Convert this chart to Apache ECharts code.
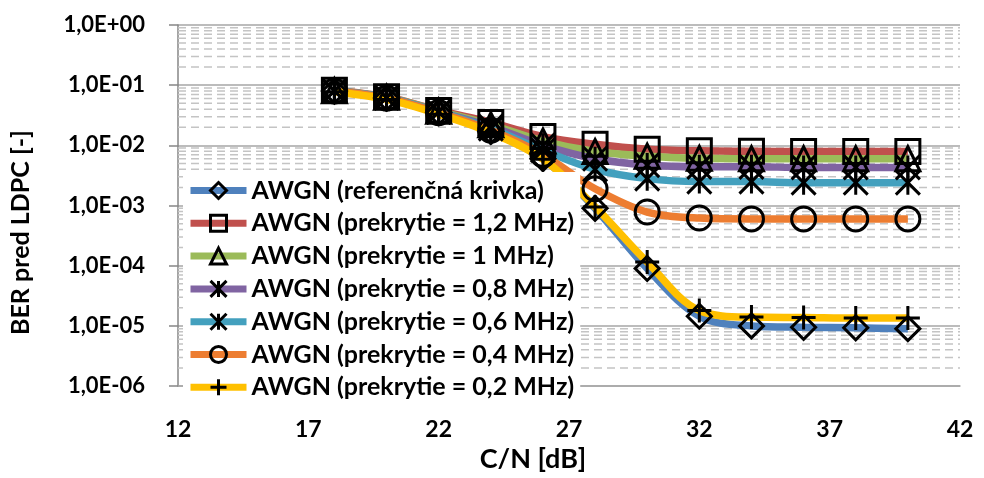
<!DOCTYPE html>
<html>
<head>
<meta charset="utf-8">
<script src="https://cdn.jsdelivr.net/npm/echarts@6/dist/echarts.min.js"></script>
<style>html,body{margin:0;padding:0;background:#fff}#c{width:984px;height:478px}</style>
</head>
<body>
<div id="c"></div>
<script>
// C/N [dB]
const cn = [18, 20, 22, 24, 26, 28, 30, 32, 34, 36, 38, 40];
// BER before LDPC per series
const berRef   = [0.080, 0.061, 0.035, 0.0170, 0.0060, 0.00090, 0.000090, 0.0000145, 0.0000100, 0.0000095, 0.0000093, 0.0000090];
const ber12    = [0.082, 0.064, 0.038, 0.0240, 0.0140, 0.0104, 0.0086, 0.0081, 0.0080, 0.0079, 0.0079, 0.0079];
const ber10    = [0.081, 0.063, 0.037, 0.0220, 0.0118, 0.0079, 0.0066, 0.0061, 0.0060, 0.0060, 0.0060, 0.0060];
const ber08    = [0.081, 0.062, 0.036, 0.0205, 0.0100, 0.0060, 0.0047, 0.0044, 0.0044, 0.0043, 0.0043, 0.0043];
const ber06    = [0.080, 0.062, 0.036, 0.0190, 0.0083, 0.0040, 0.0028, 0.0025, 0.0025, 0.0024, 0.0024, 0.0024];
const ber04    = [0.080, 0.061, 0.035, 0.0178, 0.0070, 0.0019, 0.00078, 0.00062, 0.00060, 0.00060, 0.00060, 0.00060];
const ber02    = [0.078, 0.058, 0.033, 0.0163, 0.0059, 0.00095, 0.000115, 0.000018, 0.000014, 0.0000138, 0.0000135, 0.0000135];

const seriesNames = [
  'AWGN (referenčná krivka)',
  'AWGN (prekrytie = 1,2 MHz)',
  'AWGN (prekrytie = 1 MHz)',
  'AWGN (prekrytie = 0,8 MHz)',
  'AWGN (prekrytie = 0,6 MHz)',
  'AWGN (prekrytie = 0,4 MHz)',
  'AWGN (prekrytie = 0,2 MHz)'
];
const seriesValues = [berRef, ber12, ber10, ber08, ber06, ber04, ber02];
const seriesColors = ['#4F81BD', '#C0504D', '#9BBB59', '#8064A2', '#43A0BE', '#ED7D31', '#FFC000'];
const ASTER = 'path://M0,0L20,20M20,0L0,20M10,0L10,20';
const PLUS = 'path://M10,0L10,20M0,10L20,10';
const seriesSymbols = ['diamond', 'rect', 'triangle', ASTER, ASTER, 'circle', PLUS];

const X_MIN = 12, X_MAX = 42;
// minor (dashed) log gridlines 2..9 x 10^e
const minorGrid = [];
for (let e = -6; e <= -1; e++) for (let m = 2; m <= 9; m++) minorGrid.push(m * Math.pow(10, e));
const minorGridData = [];
minorGrid.forEach(v => { minorGridData.push([X_MIN, v], [X_MAX, v], [X_MAX, '-']); });

const FONT = 'Lato';
const series = [{
  name: '_grid', type: 'line', data: minorGridData, silent: true, z: 1,
  symbol: 'none', connectNulls: false,
  lineStyle: {type: [8, 5], color: '#C4C4C4', width: 1.5},
  emphasis: {disabled: true}
}];
seriesNames.forEach((n, i) => {
  series.push({
    name: n, type: 'line', smooth: 0.35,
    data: cn.map((x, j) => [x, seriesValues[i][j]]),
    symbol: seriesSymbols[i], symbolSize: 24,
    lineStyle: {color: seriesColors[i], width: 7.5},
    itemStyle: {color: 'rgba(0,0,0,0)', borderColor: '#000', borderWidth: 3},
    emphasis: {disabled: true}, z: 3
  });
});

const chart = echarts.init(document.getElementById('c'));
chart.setOption({
  animation: false,
  textStyle: {fontFamily: FONT},
  grid: {left: 178, right: 24, top: 25, bottom: 89},
  xAxis: {
    type: 'value', min: X_MIN, max: X_MAX, interval: 5,
    name: 'C/N [dB]', nameLocation: 'middle', nameGap: 59,
    nameTextStyle: {fontFamily: FONT, fontWeight: 'bold', fontSize: 27, color: '#000', padding: [0, 72, 0, 0]},
    axisLine: {show: true, onZero: false, lineStyle: {color: '#A6A6A6', width: 1.5}},
    axisTick: {show: false},
    splitLine: {show: false},
    axisLabel: {fontFamily: FONT, fontWeight: 'bold', fontSize: 23, color: '#000', margin: 32}
  },
  yAxis: {
    type: 'log', logBase: 10, min: 1e-6, max: 1,
    name: 'BER pred LDPC [-]', nameLocation: 'middle', nameGap: 145, nameRotate: 90,
    nameTextStyle: {fontFamily: FONT, fontWeight: 'bold', fontSize: 25, color: '#000', padding: [0, 54, 0, 0]},
    axisLine: {show: true, lineStyle: {color: '#868686', width: 1.5}},
    axisTick: {show: true, length: 9, lineStyle: {color: '#868686', width: 1.5}},
    splitLine: {show: true, lineStyle: {color: '#A6A6A6', width: 1.5}},
    axisLabel: {
      fontFamily: FONT, fontWeight: 'bold', fontSize: 22, color: '#000', margin: 33,
      formatter: v => {
        const e = Math.round(Math.log10(v));
        return '1,0E' + (e < 0 ? '-' : '+') + String(Math.abs(e)).padStart(2, '0');
      }
    }
  },
  legend: {
    data: seriesNames, orient: 'vertical', left: 183, top: 172,
    backgroundColor: '#fff', padding: [6, 6, 6, 4],
    itemWidth: 56, itemHeight: 20, itemGap: 7.8,
    selectedMode: false,
    lineStyle: {width: 7, color: 'inherit'},
    itemStyle: {color: 'rgba(0,0,0,0)', borderColor: '#000', borderWidth: 3},
    textStyle: {fontFamily: FONT, fontWeight: 'bold', fontSize: 25, color: '#000', lineHeight: 22}
  },
  series: series
});
</script>
</body>
</html>
